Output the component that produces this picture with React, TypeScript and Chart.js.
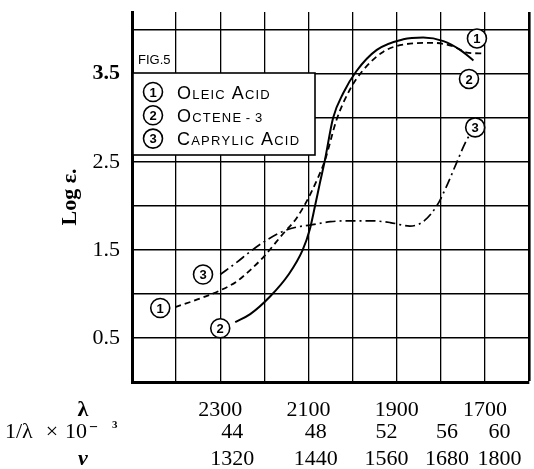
import React, { useEffect, useRef } from 'react';
import { Chart, registerables } from 'chart.js';
Chart.register(...registerables);

// ---- data (wavelength in Å, log ε) ----
const oleicLambda = [2402, 2361, 2300, 2263, 2232, 2200, 2158, 2127, 2101, 2081, 2063, 2036, 2006, 1976, 1930, 1885, 1817, 1772, 1741, 1704];
const oleicLog = [0.85, 0.92, 1.04, 1.14, 1.27, 1.43, 1.68, 1.86, 2.08, 2.29, 2.51, 2.98, 3.32, 3.54, 3.75, 3.83, 3.85, 3.81, 3.74, 3.73];

const octeneLambda = [2266, 2232, 2187, 2145, 2113, 2097, 2085, 2074, 2063, 2044, 2021, 1991, 1945, 1885, 1840, 1794, 1756, 1726];
const octeneLog = [0.68, 0.77, 0.97, 1.22, 1.5, 1.73, 2.0, 2.26, 2.51, 3.0, 3.28, 3.53, 3.77, 3.89, 3.91, 3.87, 3.77, 3.65];

const caprylicLambda = [2300, 2262, 2232, 2195, 2158, 2125, 2097, 2050, 2006, 1960, 1915, 1870, 1840, 1809, 1787, 1764, 1741, 1730];
const caprylicLog = [1.22, 1.36, 1.48, 1.61, 1.71, 1.76, 1.78, 1.82, 1.83, 1.83, 1.81, 1.77, 1.82, 2.0, 2.22, 2.49, 2.75, 2.83];

const seriesNames = ['Oleic Acid', 'Octene-3', 'Caprylic Acid'];
const seriesNums = ['1', '2', '3'];

// circled curve labels (number, λ, log ε)
const curveLabelNums = ['1', '1', '2', '2', '3', '3'];
const curveLabelLambda = [1718, 2436, 1736, 2300, 2339, 1722];
const curveLabelLog = [3.9, 0.84, 3.44, 0.61, 1.22, 2.89];

// tick values / labels
const yGridValues = [0, 0.5, 1, 1.5, 2, 2.5, 3, 3.5, 4];
const yTickLabels = ['0.5', '1.5', '2.5', '3.5'];
const lambdaTicks = [2300, 2100, 1900, 1700];
const waveNumberTicks = [44, 48, 52, 56, 60];
const nuTicks = [1320, 1440, 1560, 1680, 1800];

const SERIF = "'Liberation Serif', 'DejaVu Serif', serif";
const SANS = "'Liberation Sans', 'DejaVu Sans', sans-serif";
const TICK_SIZE = 22;

const zip = (xs: number[], ys: number[]) => xs.map((x, i) => ({ x, y: ys[i] }));

function circled(ctx: CanvasRenderingContext2D, cx: number, cy: number, txt: string, r: number) {
  ctx.beginPath();
  ctx.arc(cx, cy, r, 0, Math.PI * 2);
  ctx.fillStyle = '#fff';
  ctx.fill();
  ctx.lineWidth = 1.6;
  ctx.strokeStyle = '#000';
  ctx.setLineDash([]);
  ctx.stroke();
  ctx.fillStyle = '#000';
  ctx.font = `bold 13px ${SANS}`;
  ctx.textAlign = 'center';
  ctx.textBaseline = 'middle';
  ctx.fillText(txt, cx, cy + 1);
}

function drawSmallCaps(ctx: CanvasRenderingContext2D, text: string, x: number, y: number, big: number, small: number, spacing: number) {
  let cx = x;
  ctx.textAlign = 'left';
  ctx.textBaseline = 'alphabetic';
  const words = text.split(' ');
  words.forEach((w) => {
    for (let i = 0; i < w.length; i++) {
      const ch = w[i];
      const isBig = i === 0 && /[A-Za-z]/.test(ch);
      ctx.font = `${isBig ? big : small}px ${SANS}`;
      const c = ch === '-' ? ' - ' : ch.toUpperCase();
      ctx.fillText(c, cx, y);
      cx += ctx.measureText(c).width + spacing;
    }
    cx += small * 0.45;
  });
}

const figurePlugin = {
  id: 'figureText',
  afterDraw(chart: any) {
    const ctx: CanvasRenderingContext2D = chart.ctx;
    const xs = chart.scales.x;
    const ys = chart.scales.y;
    const area = chart.chartArea;
    ctx.save();

    // FIG.5
    ctx.fillStyle = '#000';
    ctx.font = `13px ${SANS}`;
    ctx.textAlign = 'left';
    ctx.textBaseline = 'middle';
    ctx.fillText('FIG.5', area.left + 6, 60);

    // legend box
    const bx = area.left + 1, by = 73, bw = 182, bh = 82;
    ctx.fillStyle = '#fff';
    ctx.fillRect(bx, by, bw, bh);
    ctx.lineWidth = 1.6;
    ctx.strokeStyle = '#000';
    ctx.strokeRect(bx, by, bw, bh);
    seriesNames.forEach((name, i) => {
      const cy = 92 + i * 23.3;
      circled(ctx, bx + 20, cy, seriesNums[i], 9.5);
      ctx.fillStyle = '#000';
      drawSmallCaps(ctx, name, bx + 44, cy + 6.5, 18, 13, 1.2);
    });

    // circled curve labels
    curveLabelNums.forEach((n, i) => {
      circled(ctx, xs.getPixelForValue(curveLabelLambda[i]), ys.getPixelForValue(curveLabelLog[i]), n, 9.5);
    });

    // bottom row titles
    const rowCenter = (id: string) => {
      const s = chart.scales[id];
      const pad = s.options.ticks.padding;
      return s.top + pad + TICK_SIZE / 2;
    };
    ctx.fillStyle = '#000';
    ctx.textBaseline = 'middle';
    ctx.textAlign = 'center';
    ctx.font = `bold ${TICK_SIZE}px ${SERIF}`;
    ctx.fillText('λ', 83, rowCenter('xl'));
    ctx.font = `bold italic ${TICK_SIZE}px ${SERIF}`;
    ctx.fillText('ν', 83, rowCenter('xn'));
    const yr = rowCenter('xr');
    ctx.font = `${TICK_SIZE}px ${SERIF}`;
    ctx.textAlign = 'left';
    ctx.fillText('1/λ', 5, yr);
    ctx.textAlign = 'center';
    ctx.fillText('×', 52, yr);
    ctx.textAlign = 'left';
    ctx.fillText('10', 65, yr);
    ctx.font = `bold 14px ${SERIF}`;
    ctx.fillText('–', 90, yr - 6);
    ctx.font = `bold 11px ${SERIF}`;
    ctx.fillText('3', 112, yr - 7);

    ctx.restore();
  },
};

export default function App() {
  const ref = useRef<HTMLCanvasElement | null>(null);
  useEffect(() => {
    if (!ref.current) return;
    const labelAxis = (weight: number, pad: number, height: number, ticksArr: number[], valueOf: (t: number) => number, labels: (string | number)[]) => ({
      type: 'linear',
      position: 'bottom',
      min: 1600,
      max: 2500,
      reverse: true,
      weight,
      grid: { display: false, drawTicks: false },
      border: { display: false },
      afterBuildTicks: (s: any) => {
        s.ticks = ticksArr.map((t) => ({ value: valueOf(t) }));
      },
      afterFit: (s: any) => {
        s.height = height;
        s.paddingLeft = 0;
        s.paddingRight = 0;
      },
      ticks: {
        autoSkip: false,
        maxRotation: 0,
        padding: pad,
        color: '#000',
        font: { size: TICK_SIZE, family: SERIF, lineHeight: 1 },
        callback: (_v: any, i: number) => String(labels[i]),
      },
    });

    const chart = new Chart(ref.current, {
      type: 'line',
      data: {
        datasets: [
          {
            label: seriesNames[0],
            data: zip(oleicLambda, oleicLog),
            borderColor: '#000',
            borderWidth: 1.8,
            borderDash: [6, 4],
            pointRadius: 0,
            fill: false,
            cubicInterpolationMode: 'monotone',
          },
          {
            label: seriesNames[1],
            data: zip(octeneLambda, octeneLog),
            borderColor: '#000',
            borderWidth: 2,
            pointRadius: 0,
            fill: false,
            cubicInterpolationMode: 'monotone',
          },
          {
            label: seriesNames[2],
            data: zip(caprylicLambda, caprylicLog),
            borderColor: '#000',
            borderWidth: 1.7,
            borderDash: [10, 4, 2, 4],
            pointRadius: 0,
            fill: false,
            cubicInterpolationMode: 'monotone',
          },
        ],
      },
      options: {
        animation: false,
        responsive: false,
        devicePixelRatio: 1,
        layout: { padding: { left: 0, right: 5, top: 12, bottom: 0 } },
        plugins: { legend: { display: false }, tooltip: { enabled: false } },
        scales: {
          x: {
            type: 'linear',
            position: 'bottom',
            min: 1600,
            max: 2500,
            reverse: true,
            weight: 0,
            ticks: { display: false, stepSize: 100 },
            grid: {
              color: '#000',
              lineWidth: (c: any) => (c.tick && c.tick.value === 1600 ? 2.6 : 1.3),
              drawTicks: false,
            },
            border: { display: true, color: '#000', width: 3 },
            afterFit: (s: any) => {
              s.height = 0;
              s.paddingLeft = 0;
              s.paddingRight = 0;
            },
          },
          xl: labelAxis(1, 17, 38, lambdaTicks, (t) => t, lambdaTicks),
          xr: labelAxis(2, 1, 22, waveNumberTicks, (k) => 1e5 / k, waveNumberTicks),
          xn: labelAxis(3, 6, 27, nuTicks, (n) => 3e6 / n, nuTicks),
          y: {
            type: 'linear',
            position: 'left',
            min: 0,
            max: 4.2,
            afterBuildTicks: (s: any) => {
              s.ticks = yGridValues.map((v) => ({ value: v }));
            },
            afterFit: (s: any) => {
              s.width = 132;
              s.paddingTop = 0;
              s.paddingBottom = 0;
            },
            grid: { color: '#000', lineWidth: 1.5, drawTicks: false },
            border: { display: true, color: '#000', width: 3 },
            ticks: {
              padding: 12,
              color: '#000',
              font: (c: any) => ({
                size: TICK_SIZE,
                family: SERIF,
                weight: c.tick && c.tick.value === 3.5 ? 'bold' : 'normal',
              }),
              callback: (v: any) => {
                const s = Number(v).toFixed(1);
                return yTickLabels.includes(s) ? s : '';
              },
            },
            title: {
              display: true,
              text: 'Log ε.',
              color: '#000',
              font: { size: 22, family: SERIF, weight: 'bold' },
              padding: { top: 57, bottom: 0 },
            },
          },
        },
      } as any,
      plugins: [figurePlugin],
    } as any);
    return () => chart.destroy();
  }, []);

  return (
    <div style={{ position: 'absolute', left: 0, top: 0, width: 534, height: 469, background: '#fff' }}>
      <canvas ref={ref} width={534} height={469} />
    </div>
  );
}
